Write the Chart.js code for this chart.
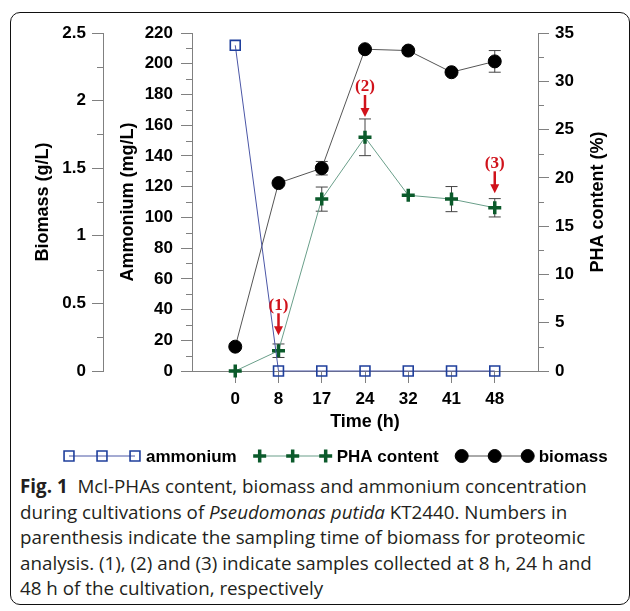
<!DOCTYPE html>
<html>
<head>
<meta charset="utf-8">
<script src="https://cdn.jsdelivr.net/npm/chart.js@4.4.1/dist/chart.umd.min.js"></script>
<style>
  html, body { margin: 0; padding: 0; background: #fff; }
  #wrap { position: relative; width: 630px; height: 611px; overflow: hidden; }
  #chartBox { position: absolute; left: 0; top: 0; width: 630px; height: 470px; }
  #frame { position: absolute; left: 10px; top: 12px; width: 620px; height: 593px; box-sizing: border-box;
           border: 1.5px solid #111; border-radius: 10px; pointer-events: none; }
  #caption { position: absolute; left: 20px; top: 474px; font-family: 'Open Sans', sans-serif; font-size: 18.8px;
             line-height: 25.6px; color: #231f20; white-space: nowrap; }
  #caption b { font-weight: 700; }
</style>
</head>
<body>
<div id="wrap">
  <div id="chartBox"><canvas id="myChart" width="630" height="470"></canvas></div>
  <div id="caption"><b>Fig. 1</b>&nbsp; Mcl-PHAs content, biomass and ammonium concentration<br>during cultivations of <i>Pseudomonas putida</i> KT2440. Numbers in<br>parenthesis indicate the sampling time of biomass for proteomic<br>analysis. (1), (2) and (3) indicate samples collected at 8 h, 24 h and<br>48 h of the cultivation, respectively</div>
  <div id="frame"></div>
</div>
<script>
// data
const timeLabels = ['0', '8', '17', '24', '32', '41', '48'];
const ammonium = [212, 0, 0, 0, 0, 0, 0];
const phaContent = [0, 2.1, 17.8, 24.2, 18.2, 17.8, 16.9];
const phaError = [0, 0.7, 1.25, 1.9, 0, 1.3, 0.95];
const biomass = [0.18, 1.39, 1.50, 2.38, 2.37, 2.21, 2.29];
const biomassError = [0, 0.02, 0.05, 0, 0, 0, 0.08];
// sampling marks: time index, label, arrow tip on the PHA axis (%)
const sampleIndex = [1, 3, 6];
const sampleText = ['(1)', '(2)', '(3)'];
const sampleTip = [3.7, 26.3, 18.4];

const tickFont = { family: 'Liberation Sans, Arial', size: 17, weight: 'bold' };
const titleFont = { family: 'Liberation Sans, Arial', size: 18, weight: 'bold' };
const axisGray = '#808080';

const toXY = arr => arr.map((v, i) => ({ x: i, y: v }));

// minor ticks (short ones between the labelled ticks)
const minorTicks = {
  id: 'minorTicks',
  afterDraw(chart) {
    const ctx = chart.ctx;
    const defs = [['yBio', 0.25, -1], ['y', 10, -1], ['yPha', 2.5, 1]];
    ctx.save();
    ctx.strokeStyle = axisGray;
    ctx.lineWidth = 1;
    defs.forEach(([id, step, dir]) => {
      const s = chart.scales[id];
      const x0 = dir < 0 ? s.right : s.left;
      for (let v = step; v < s.max; v += 2 * step) {
        const y = Math.round(s.getPixelForValue(v)) + 0.5;
        ctx.beginPath();
        ctx.moveTo(x0, y);
        ctx.lineTo(x0 + dir * 6, y);
        ctx.stroke();
      }
    });
    ctx.restore();
  }
};

// error bars
const errorBars = {
  id: 'errorBars',
  beforeDatasetsDraw(chart) {
    const ctx = chart.ctx;
    const x = chart.scales.x;
    const sets = [[phaContent, phaError, chart.scales.yPha], [biomass, biomassError, chart.scales.yBio]];
    ctx.save();
    ctx.strokeStyle = '#444';
    ctx.lineWidth = 1;
    sets.forEach(([vals, errs, s]) => {
      vals.forEach((v, i) => {
        if (!errs[i]) return;
        const px = x.getPixelForValue(i);
        const top = s.getPixelForValue(v + errs[i]);
        const bot = s.getPixelForValue(v - errs[i]);
        ctx.beginPath();
        ctx.moveTo(px, top); ctx.lineTo(px, bot);
        ctx.moveTo(px - 6, top); ctx.lineTo(px + 6, top);
        ctx.moveTo(px - 6, bot); ctx.lineTo(px + 6, bot);
        ctx.stroke();
      });
    });
    ctx.restore();
  }
};

// red arrows for the proteomic samples + right axis title + legend
const extras = {
  id: 'extras',
  afterDraw(chart) {
    const ctx = chart.ctx;
    const x = chart.scales.x;
    const yPha = chart.scales.yPha;
    ctx.save();
    ctx.fillStyle = '#d0121b';
    ctx.strokeStyle = '#d0121b';
    ctx.lineWidth = 2.5;
    ctx.textAlign = 'center';
    ctx.textBaseline = 'middle';
    ctx.font = 'bold 17px "Liberation Serif", "Times New Roman", serif';
    sampleIndex.forEach((idx, k) => {
      const px = x.getPixelForValue(idx);
      const tip = yPha.getPixelForValue(sampleTip[k]);
      ctx.beginPath();
      ctx.moveTo(px, tip - 22);
      ctx.lineTo(px, tip - 7);
      ctx.stroke();
      ctx.beginPath();
      ctx.moveTo(px - 4.5, tip - 9);
      ctx.lineTo(px + 4.5, tip - 9);
      ctx.lineTo(px, tip);
      ctx.closePath();
      ctx.fill();
      ctx.fillText(sampleText[k], px, tip - 30);
    });

    // right axis title, read bottom-to-top like the left ones
    ctx.fillStyle = '#000';
    ctx.font = 'bold 18px "Liberation Sans", Arial';
    ctx.translate(yPha.left + 60, (chart.chartArea.top + chart.chartArea.bottom) / 2);
    ctx.rotate(-Math.PI / 2);
    ctx.fillText('PHA content (%)', 0, 0);
    ctx.setTransform(1, 0, 0, 1, 0, 0);

    // legend: three markers joined by a line, then the label
    const ly = 456;
    let lx = 69;
    ctx.font = 'bold 17px "Liberation Sans", Arial';
    ctx.textAlign = 'left';
    chart.data.datasets.forEach(ds => {
      ctx.strokeStyle = ds.borderColor;
      ctx.lineWidth = 1;
      ctx.beginPath();
      ctx.moveTo(lx, ly);
      ctx.lineTo(lx + 66, ly);
      ctx.stroke();
      for (let k = 0; k < 3; k++) {
        ctx.strokeStyle = ds.pointBorderColor;
        ctx.fillStyle = ds.pointBackgroundColor;
        ctx.lineWidth = ds.pointBorderWidth;
        Chart.helpers.drawPoint(ctx, {
          pointStyle: ds.pointStyle, radius: ds.pointRadius, borderWidth: ds.pointBorderWidth, rotation: 0
        }, lx + k * 33, ly);
      }
      ctx.fillStyle = '#000';
      const tx = lx + 66 + 11;
      ctx.fillText(ds.label, tx, ly + 1);
      lx = tx + ctx.measureText(ds.label).width + 23;
    });
    ctx.restore();
  }
};

const ctx = document.getElementById('myChart').getContext('2d');
const myChart = new Chart(ctx, {
  type: 'line',
  data: {
    datasets: [{
      label: 'ammonium',
      data: toXY(ammonium),
      yAxisID: 'y',
      borderColor: '#4b56a6',
      borderWidth: 1,
      pointStyle: 'rect',
      pointRadius: 7,
      pointBorderWidth: 1.6,
      pointBorderColor: '#1f3f9c',
      pointBackgroundColor: 'rgba(0,0,0,0)',
      clip: false
    }, {
      label: 'PHA content',
      data: toXY(phaContent),
      yAxisID: 'yPha',
      borderColor: '#6a9f8a',
      borderWidth: 1,
      pointStyle: 'cross',
      pointRadius: 6.5,
      pointBorderWidth: 3.5,
      pointBorderColor: '#0b5a2b',
      pointBackgroundColor: '#0b5a2b',
      clip: false
    }, {
      label: 'biomass',
      data: toXY(biomass),
      yAxisID: 'yBio',
      borderColor: '#555',
      borderWidth: 1,
      pointStyle: 'circle',
      pointRadius: 6.5,
      pointBorderWidth: 1,
      pointBorderColor: '#000',
      pointBackgroundColor: '#000',
      clip: false
    }]
  },
  options: {
    responsive: false,
    animation: false,
    layout: { padding: { top: 33, left: 0, right: 0, bottom: 34 } },
    plugins: { legend: { display: false }, tooltip: { enabled: false } },
    scales: {
      x: {
        type: 'linear',
        min: -1,
        max: 7,
        afterBuildTicks: s => { s.ticks = timeLabels.map((t, i) => ({ value: i })); },
        afterFit: s => { s.height = 65; },
        ticks: { callback: v => timeLabels[v], font: tickFont, color: '#000', padding: 6, autoSkip: false, maxRotation: 0 },
        grid: { drawOnChartArea: false, tickLength: 12, color: axisGray },
        border: { color: axisGray },
        title: { display: true, text: 'Time (h)', font: titleFont, color: '#000', padding: { top: 0, bottom: 3 } }
      },
      y: {
        position: 'left',
        weight: 0,
        min: 0,
        max: 220,
        afterFit: s => { s.width = 89; },
        ticks: { stepSize: 20, font: tickFont, color: '#000', padding: 8 },
        grid: { drawOnChartArea: false, tickLength: 11, color: axisGray },
        border: { color: axisGray },
        title: { display: true, text: 'Ammonium (mg/L)', font: titleFont, color: '#000', padding: { top: 14, bottom: 0 } }
      },
      yBio: {
        position: 'left',
        weight: 1,
        min: 0,
        max: 2.5,
        afterFit: s => { s.width = 103; },
        ticks: { stepSize: 0.5, callback: v => String(v), font: tickFont, color: '#000', padding: 6 },
        grid: { drawOnChartArea: false, tickLength: 11, color: axisGray },
        border: { color: axisGray },
        title: { display: true, text: 'Biomass (g/L)', font: titleFont, color: '#000', padding: { top: 32, bottom: 0 } }
      },
      yPha: {
        position: 'right',
        min: 0,
        max: 35,
        afterFit: s => { s.width = 92; },
        ticks: { stepSize: 5, font: tickFont, color: '#000', padding: 6 },
        grid: { drawOnChartArea: false, tickLength: 11, color: axisGray },
        border: { color: axisGray }
      }
    }
  },
  plugins: [minorTicks, errorBars, extras]
});
</script>
</body>
</html>
